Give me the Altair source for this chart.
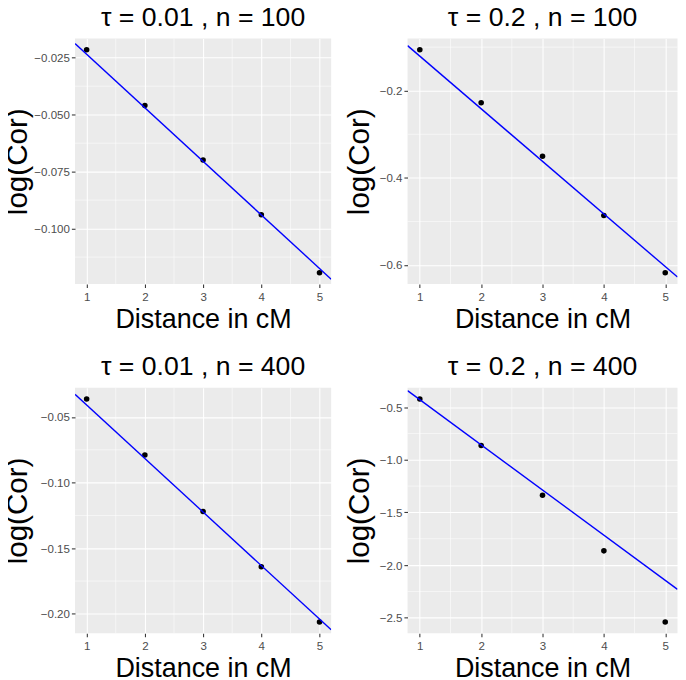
import altair as alt
import pandas as pd

# ---- data ----
distance = [1, 2, 3, 4, 5]
titles = ["τ = 0.01 , n = 100", "τ = 0.2 , n = 100", "τ = 0.01 , n = 400", "τ = 0.2 , n = 400"]
logcor_p1 = [-0.0215, -0.0460, -0.0699, -0.0939, -0.1194]
logcor_p2 = [-0.106, -0.2277, -0.3504, -0.4864, -0.6178]
logcor_p3 = [-0.0362, -0.0789, -0.1220, -0.1641, -0.2062]
logcor_p4 = [-0.4226, -0.8638, -1.3367, -1.8647, -2.540]
slopes = [-0.0235, -0.1207, -0.0408, -0.429]
x_ticks = [1, 2, 3, 4, 5]
y_ticks_p1 = [-0.025, -0.050, -0.075, -0.100]
y_ticks_p2 = [-0.2, -0.4, -0.6]
y_ticks_p3 = [-0.05, -0.10, -0.15, -0.20]
y_ticks_p4 = [-0.5, -1.0, -1.5, -2.0, -2.5]
y_formats = [".3f", ".1f", ".2f", ".1f"]

FONT = "Liberation Sans"


def expand(lo, hi, f=0.05):
    r = hi - lo
    return [lo - f * r, hi + f * r]


def minors(ticks, dom):
    step = ticks[1] - ticks[0]
    ext = [ticks[0] - step] + list(ticks) + [ticks[-1] + step]
    out = []
    for a, b in zip(ext[:-1], ext[1:]):
        m = (a + b) / 2
        if min(dom) < m < max(dom):
            out.append(m)
    return out


def panel(values, slope, yticks, fmt, title, width, left):
    xdom = expand(min(distance), max(distance))
    ydom = expand(min(values), max(values))
    xs = alt.Scale(domain=xdom, nice=False, zero=False)
    ys = alt.Scale(domain=ydom, nice=False, zero=False)
    xaxis = alt.Axis(values=x_ticks, title="Distance in cM", format="d",
                     titlePadding=2.6, labelPadding=4, titleFontSize=27.3)
    if left:
        yaxis = alt.Axis(values=yticks, format=fmt, title="log(Cor)",
                         minExtent=42, maxExtent=42, titlePadding=1, titleFontSize=30)
    else:
        yaxis = alt.Axis(values=yticks, format=fmt, title="log(Cor)",
                         minExtent=29, maxExtent=29, titlePadding=4.5, titleFontSize=30)

    pts = pd.DataFrame({"x": distance, "y": values})
    line_df = pd.DataFrame({"x": xdom, "y": [slope * v for v in xdom]})
    mx = pd.DataFrame({"x": minors(x_ticks, xdom)})
    my = pd.DataFrame({"y": minors(yticks, ydom)})

    minor_x = alt.Chart(mx).mark_rule(color="white", strokeWidth=0.55).encode(
        x=alt.X("x:Q", scale=xs, axis=xaxis))
    minor_y = alt.Chart(my).mark_rule(color="white", strokeWidth=0.55).encode(
        y=alt.Y("y:Q", scale=ys, axis=yaxis))
    points = alt.Chart(pts).mark_circle(color="black", size=32, opacity=1).encode(
        x=alt.X("x:Q", scale=xs, axis=xaxis),
        y=alt.Y("y:Q", scale=ys, axis=yaxis))
    line = alt.Chart(line_df).mark_line(color="#0000FF", strokeWidth=1.4, clip=True).encode(
        x=alt.X("x:Q", scale=xs, axis=xaxis),
        y=alt.Y("y:Q", scale=ys, axis=yaxis))
    return alt.layer(minor_x, minor_y, points, line).properties(
        width=width, height=249, title=title)


p1 = panel(logcor_p1, slopes[0], y_ticks_p1, y_formats[0], titles[0], 260, True)
p2 = panel(logcor_p2, slopes[1], y_ticks_p2, y_formats[1], titles[1], 274, False)
p3 = panel(logcor_p3, slopes[2], y_ticks_p3, y_formats[2], titles[2], 260, True)
p4 = panel(logcor_p4, slopes[3], y_ticks_p4, y_formats[3], titles[3], 274, False)

chart = alt.vconcat(
    alt.hconcat(p1, p2, spacing=12.5),
    alt.hconcat(p3, p4, spacing=12.5),
    spacing=20.4,
).configure_view(
    fill="#EBEBEB", stroke=None
).configure_axis(
    domain=False, tickColor="#333333", tickSize=3.67, tickWidth=1.07,
    labelColor="#4D4D4D", labelFontSize=11.7, labelFont=FONT,
    titleFont=FONT, titleFontWeight="normal", titleColor="black",
    gridColor="white", gridWidth=1.07,
).configure_title(
    font=FONT, fontSize=27, fontWeight="normal", anchor="middle", frame="group",
    offset=6.5, color="black"
).properties(padding={"left": -5, "top": -9, "right": 0, "bottom": 0})

chart.save("out.html", embed_options={"renderer": "svg", "actions": False})
